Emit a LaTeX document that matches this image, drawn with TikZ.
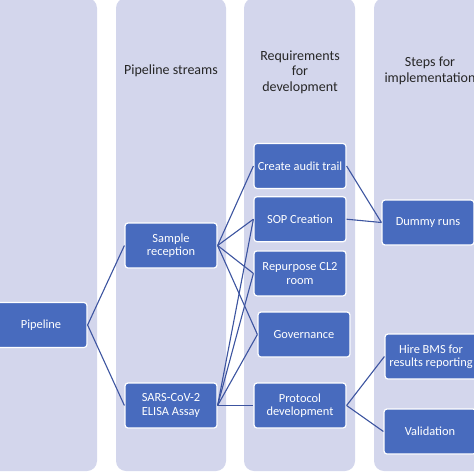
\documentclass[tikz,border=0pt]{standalone}
\usepackage{fontspec}
\setmainfont{Carlito}
\usepackage{tikz}
\usetikzlibrary{positioning}
\definecolor{panelfill}{RGB}{211,214,236}
\definecolor{boxfill}{RGB}{72,107,190}
\definecolor{linkblue}{RGB}{60,84,160}
\tikzset{
  column/.style={rounded corners=10pt, fill=panelfill, draw=none},
  heading/.style={text=black!85, align=center, font=\fontsize{14}{15.6}\selectfont},
  stage/.style={rectangle, rounded corners=3pt, minimum width=92pt, minimum height=45pt, align=center, text=white, fill=boxfill, draw=white, line width=1.2pt, inner sep=1pt, font=\fontsize{12.4}{13.4}\selectfont},
  link/.style={draw=linkblue, line width=1.1pt}
}

\begin{document}
\begin{tikzpicture}[x=1pt, y=-1pt]
    \useasboundingbox (0,0) rectangle (474,474);

    % background columns
    \path[column] (-20,-2) rectangle (97,471);
    \path[column] (116,-2) rectangle (226,471);
    \path[column] (244,-2) rectangle (355,471);
    \path[column] (374,-2) rectangle (500,471);

    \node (hstreams) [heading] at (171,71) {Pipeline streams};
    \node (hreq) [heading] at (300,72) {Requirements\\for\\development};
    \node (hsteps) [heading] at (430,71) {Steps for\\implementation};

    \node (pipe) [stage] at (41,325) {Pipeline};
    \node (sample) [stage] at (171,245.5) {Sample\\reception};
    \node (elisa) [stage] at (171,405.5) {SARS-CoV-2\\ELISA Assay};
    \node (audit) [stage] at (300,166) {Create audit trail};
    \node (sop) [stage, below=7pt of audit] {SOP Creation};
    \node (cl2) [stage, below=8pt of sop] {Repurpose CL2\\room};
    \node (gov) [stage] at (304,334.5) {Governance};
    \node (proto) [stage] at (300,405.5) {Protocol\\development};
    \node (dummy) [stage] at (428,222.5) {Dummy runs};
    \node (bms) [stage] at (431,356.5) {Hire BMS for\\results reporting};
    \node (valid) [stage] at (430,431.5) {Validation};

    % pipeline to streams
    \draw[link] (pipe.east) -- (sample.west);
    \draw[link] (pipe.east) -- (elisa.west);

    % streams to requirements
    \draw[link] (sample.east) -- (audit.west);
    \draw[link] (sample.east) -- (sop.west);
    \draw[link] (sample.east) -- (cl2.west);
    \draw[link] (sample.east) -- (gov.west);
    \draw[link] (elisa.east) -- (sop.west);
    \draw[link] (elisa.east) -- (cl2.west);
    \draw[link] (elisa.east) -- (gov.west);
    \draw[link] (elisa.east) -- (proto.west);

    % requirements to steps
    \draw[link] (audit.east) -- (dummy.west);
    \draw[link] (sop.east) -- (dummy.west);
    \draw[link] (proto.east) -- (bms.west);
    \draw[link] (proto.east) -- (valid.west);
\end{tikzpicture}
\end{document}
